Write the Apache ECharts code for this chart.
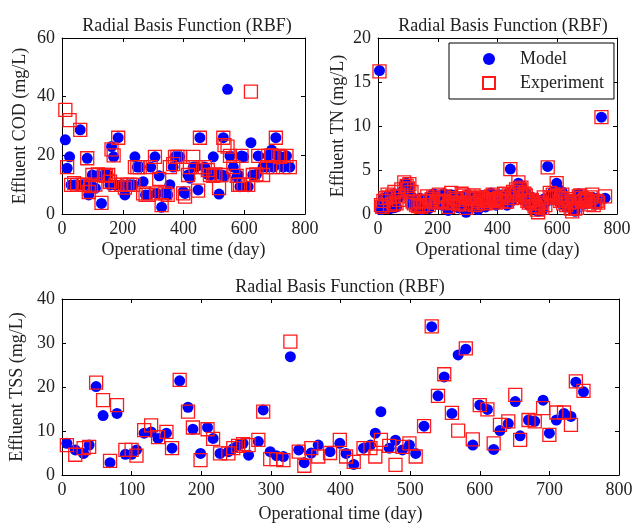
<!DOCTYPE html>
<html>
<head>
<meta charset="utf-8">
<script src="https://cdn.jsdelivr.net/npm/echarts@6/dist/echarts.min.js"></script>
<style>
  html, body { margin: 0; padding: 0; background: #fff; }
  #chart { width: 633px; height: 524px; }
</style>
</head>
<body>
<div id="chart"></div>
<script>
  // COD panel (top left)
  const codDay = [11, 17, 25, 30, 40, 50, 60, 68, 75, 83, 88, 95, 100, 110, 118, 130, 138, 145, 152, 158, 163, 170, 176, 185, 195, 207, 215, 225, 235, 240, 248, 256, 267, 275, 285, 292, 306, 312, 320, 328, 340, 348, 355, 366, 372, 380, 388, 399, 405, 415, 421, 432, 440, 448, 454, 470, 480, 487, 498, 505, 517, 525, 531, 535, 545, 553, 564, 575, 580, 586, 591, 598, 613, 622, 628, 640, 646, 662, 675, 679, 690, 695, 704, 712, 718, 728, 739, 750]
  const codModel = [25.3, 15.6, 19.5, 9.9, 9.9, 9.9, 28.7, 10, 9.9, 19, 6.5, 9.9, 13.3, 8.8, 13, 3.6, 13.3, 12.6, 13.3, 9.9, 23, 19.5, 9.9, 26, 10, 6.5, 9.9, 10, 9.9, 19.5, 16, 16, 11, 6.5, 6.5, 16, 19.5, 7, 13, 2.3, 7, 6.5, 10, 16, 19.5, 19.5, 19.5, 7.6, 7, 13.3, 12.2, 16, 16, 8.2, 26, 16, 13.5, 13.3, 19.5, 13.5, 6.8, 13.3, 26, 13, 42.5, 19.8, 16, 12.5, 13.3, 9.3, 19.8, 19.5, 9.3, 24.3, 13.3, 13.5, 19.8, 16, 16, 19.8, 21.8, 16, 26, 19.8, 19.5, 16, 19.8, 16]
  const codExp = [35.5, 16, 32, 9.9, 10.5, 9.9, 28.7, 10, 9.9, 19, 7.5, 9.5, 13.3, 10, 13.5, 3.8, 13.3, 13, 13.3, 11, 22, 20, 9.9, 26, 10, 9, 9.9, 10, 9.9, 16, 16, 16, 7, 6.5, 6.5, 16, 19.5, 7, 12, 3, 7, 6.5, 16, 17, 19.5, 19.5, 19.5, 7, 5.9, 13.3, 16, 19.5, 16, 8, 26, 16, 15, 13.3, 13, 13.5, 8.8, 13.3, 26, 23.5, 23, 19.8, 16, 13, 9.9, 10, 19.8, 10, 9.9, 41.7, 13.3, 13.5, 19.8, 13.3, 16, 19.8, 20, 16, 26, 19.8, 19.5, 16, 19.8, 16]

  // TN panel (top right)
  const tnDay = [5, 10, 14, 18, 25, 32, 36, 40, 48, 52, 55, 62, 66, 70, 78, 88, 96, 100, 105, 112, 116, 120, 128, 135, 140, 145, 150, 155, 165, 170, 175, 180, 185, 195, 200, 205, 210, 215, 220, 225, 235, 240, 245, 250, 255, 260, 265, 270, 275, 280, 285, 290, 295, 300, 305, 310, 315, 320, 325, 330, 335, 340, 345, 350, 355, 360, 365, 372, 378, 384, 390, 395, 400, 406, 412, 417, 422, 427, 432, 437, 443, 448, 452, 457, 462, 466, 470, 475, 480, 485, 490, 495, 500, 505, 510, 515, 520, 524, 528, 532, 536, 540, 545, 550, 555, 560, 568, 575, 580, 585, 592, 598, 605, 610, 613, 617, 620, 625, 630, 635, 640, 645, 650, 655, 660, 666, 672, 677, 682, 687, 692, 697, 702, 707, 712, 717, 722, 727, 732, 737, 748, 760]
  const tnModel = [16.3, 0.5, 1.2, 1.8, 1.2, 2.0, 1.6, 0.6, 1.5, 0.7, 2.3, 0.8, 2.2, 1.9, 2.5, 3.4, 3.5, 2.6, 3.1, 2.0, 1.0, 1.5, 0.8, 1.2, 1.8, 0.5, 1.3, 1.0, 1.8, 0.6, 1.2, 2.0, 2.3, 1.6, 1.1, 2.0, 1.8, 1.0, 2.3, 1.7, 0.4, 1.5, 2.2, 0.9, 1.3, 2.1, 1.9, 0.7, 1.1, 2.0, 1.8, 1.4, 0.2, 2.2, 1.5, 1.0, 2.0, 1.8, 1.3, 2.0, 0.5, 1.2, 1.6, 2.1, 1.0, 0.8, 1.8, 1.3, 2.4, 1.9, 1.4, 1.0, 1.9, 2.2, 1.2, 1.5, 2.0, 1.7, 1.0, 2.4, 5.1, 1.5, 2.2, 1.9, 2.5, 2.8, 3.5, 2.5, 3.2, 1.6, 2.0, 2.4, 1.8, 1.0, 1.2, 1.9, 1.5, 1.2, 0.5, 0.8, 0.3, 1.5, 1.0, 0.4, 1.7, 1.3, 5.4, 2.0, 1.6, 2.5, 2.2, 3.5, 2.8, 1.2, 2.2, 2.5, 1.5, 1.8, 0.8, 1.3, 1.6, 0.9, 0.5, 1.7, 0.3, 1.0, 2.3, 1.8, 1.5, 1.1, 1.9, 2.0, 1.2, 1.4, 1.6, 1.9, 1.3, 1.1, 1.8, 1.6, 11.0, 1.8]
  const tnExp = [16.2, 1.0, 0.8, 1.5, 1.8, 2.2, 1.9, 1.0, 2.0, 1.1, 2.5, 1.2, 2.0, 1.6, 2.8, 3.6, 3.2, 2.9, 3.4, 2.5, 1.4, 1.2, 1.0, 0.9, 1.5, 0.8, 1.0, 1.4, 2.0, 1.0, 1.5, 1.7, 1.9, 1.3, 1.4, 2.2, 1.5, 1.5, 2.0, 1.4, 0.8, 1.2, 2.4, 1.3, 1.8, 1.8, 1.6, 1.1, 1.3, 2.3, 2.1, 1.1, 0.7, 1.8, 1.9, 1.3, 1.7, 2.1, 1.0, 1.7, 1.2, 1.5, 1.9, 1.8, 1.3, 1.2, 1.5, 1.6, 2.0, 2.2, 1.7, 1.3, 1.6, 1.8, 1.5, 1.9, 2.3, 1.4, 1.4, 2.1, 5.1, 1.8, 2.5, 2.2, 2.8, 2.5, 3.6, 2.8, 3.0, 1.9, 2.3, 2.1, 1.5, 1.3, 1.5, 1.6, 1.2, 0.9, 0.8, 0.5, 0.2, 1.2, 1.3, 0.7, 1.9, 1.0, 5.3, 2.4, 1.9, 2.2, 1.9, 3.5, 2.0, 1.5, 1.8, 2.2, 1.2, 1.5, 1.0, 1.7, 1.3, 0.6, 0.3, 1.4, 0.6, 0.7, 2.0, 2.1, 1.8, 1.4, 1.6, 1.7, 1.5, 1.1, 1.9, 2.2, 1.0, 1.4, 1.5, 1.3, 11.0, 2.0]

  // TSS panel (bottom)
  const tssDay = [7, 19, 31, 39, 49, 59, 69, 79, 91, 100, 107, 118, 128, 138, 150, 158, 169, 181, 188, 199, 209, 217, 227, 239, 246, 253, 260, 268, 282, 289, 299, 308, 318, 328, 340, 348, 358, 368, 385, 399, 408, 419, 433, 443, 450, 458, 470, 479, 489, 499, 508, 520, 531, 540, 549, 560, 569, 580, 590, 600, 611, 620, 629, 641, 651, 658, 670, 679, 691, 700, 710, 721, 731, 738, 749]
  const tssModel = [7.2, 5.7, 4.9, 6.8, 20.1, 13.5, 2.8, 14.0, 4.7, 4.7, 5.7, 9.5, 9.8, 8.3, 9.5, 6.1, 21.4, 15.4, 10.4, 4.9, 10.8, 8.3, 4.9, 5.3, 6.0, 6.8, 7.2, 4.5, 7.6, 14.8, 5.3, 4.4, 4.2, 26.9, 5.7, 2.8, 5.0, 6.8, 5.3, 7.2, 4.9, 2.4, 6.1, 6.8, 9.5, 14.4, 6.1, 7.9, 5.7, 6.8, 4.9, 11.1, 33.7, 18.0, 22.3, 14.0, 27.3, 28.6, 6.8, 15.9, 14.9, 5.8, 10.1, 11.7, 16.7, 8.9, 12.5, 12.2, 17.0, 9.5, 12.5, 14.0, 13.3, 21.1, 18.9]
  const tssExp = [6.8, 4.6, 6.1, 6.4, 21.0, 17.0, 3.2, 15.9, 5.7, 5.7, 4.4, 10.2, 11.3, 8.6, 9.8, 6.1, 21.6, 14.4, 10.8, 3.4, 10.4, 8.2, 4.9, 4.9, 6.1, 6.6, 7.0, 6.8, 8.0, 14.4, 3.6, 3.6, 3.4, 30.3, 5.3, 2.1, 6.1, 4.2, 5.0, 8.0, 4.2, 3.0, 6.1, 6.1, 4.2, 8.0, 6.6, 2.3, 6.4, 7.2, 4.2, 11.1, 33.8, 18.0, 22.9, 14.1, 10.1, 28.8, 8.1, 15.9, 14.9, 7.2, 11.4, 12.2, 18.2, 8.0, 12.5, 12.2, 15.2, 9.1, 14.2, 14.2, 11.4, 21.3, 19.1]

  const titleText = 'Radial Basis Function (RBF)'
  const xName = 'Operational time (day)'

  const font = 'Liberation Serif'
  const ink = '#222'
  const blue = '#0000ff'
  const red = '#ff1a1a'

  const zip = (xs, ys) => xs.map((x, i) => [x, ys[i]])

  const chart = echarts.init(document.getElementById('chart'), null, { renderer: 'canvas' })

  const grids = [
    { left: 62, top: 38, width: 243, height: 176 },
    { left: 378, top: 38, width: 239, height: 176 },
    { left: 62, top: 299, width: 557, height: 176 }
  ]

  function mainX(gridIndex, interval, nameGap) {
    return {
      gridIndex: gridIndex,
      type: 'value',
      min: 0,
      max: 800,
      interval: interval,
      name: xName,
      nameLocation: 'middle',
      nameGap: nameGap,
      nameTextStyle: { fontFamily: font, fontSize: 18, color: ink },
      axisLine: { show: true, onZero: false, lineStyle: { color: '#000', width: 1 } },
      axisTick: { show: true, inside: true, length: 4, lineStyle: { color: '#000' } },
      axisLabel: { fontFamily: font, fontSize: 18, color: ink, margin: 6 },
      splitLine: { show: false }
    }
  }

  function topX(gridIndex, interval) {
    return {
      gridIndex: gridIndex,
      type: 'value',
      position: 'top',
      min: 0,
      max: 800,
      interval: interval,
      axisLine: { show: true, onZero: false, lineStyle: { color: '#000', width: 1 } },
      axisTick: { show: true, inside: true, length: 4, lineStyle: { color: '#000' } },
      axisLabel: { show: false },
      splitLine: { show: false }
    }
  }

  function mainY(gridIndex, max, interval, name, nameGap) {
    return {
      gridIndex: gridIndex,
      type: 'value',
      min: 0,
      max: max,
      interval: interval,
      name: name,
      nameLocation: 'middle',
      nameGap: nameGap,
      nameTextStyle: { fontFamily: font, fontSize: 18, color: ink },
      axisLine: { show: true, onZero: false, lineStyle: { color: '#000', width: 1 } },
      axisTick: { show: true, inside: true, length: 4, lineStyle: { color: '#000' } },
      axisLabel: { fontFamily: font, fontSize: 18, color: ink, margin: 7 },
      splitLine: { show: false }
    }
  }

  function rightY(gridIndex, max, interval) {
    return {
      gridIndex: gridIndex,
      type: 'value',
      position: 'right',
      min: 0,
      max: max,
      interval: interval,
      axisLine: { show: true, onZero: false, lineStyle: { color: '#000', width: 1 } },
      axisTick: { show: true, inside: true, length: 4, lineStyle: { color: '#000' } },
      axisLabel: { show: false },
      splitLine: { show: false }
    }
  }

  function modelSeries(xi, yi, data) {
    return {
      name: 'Model',
      type: 'scatter',
      xAxisIndex: xi,
      yAxisIndex: yi,
      symbol: 'circle',
      symbolSize: 11,
      itemStyle: { color: blue, opacity: 1 },
      data: data
    }
  }

  function expSeries(xi, yi, data) {
    return {
      name: 'Experiment',
      type: 'scatter',
      xAxisIndex: xi,
      yAxisIndex: yi,
      symbol: 'rect',
      symbolSize: 13,
      itemStyle: { color: 'rgba(0,0,0,0)', borderColor: red, borderWidth: 1.3, opacity: 1 },
      data: data
    }
  }

  const titleStyle = { fontFamily: font, fontSize: 18, fontWeight: 'normal', color: ink }

  chart.setOption({
    animation: false,
    backgroundColor: '#fff',
    title: [
      { text: titleText, left: 182, top: 12, textAlign: 'center', textStyle: titleStyle },
      { text: titleText, left: 498, top: 12, textAlign: 'center', textStyle: titleStyle },
      { text: titleText, left: 335, top: 273, textAlign: 'center', textStyle: titleStyle }
    ],
    legend: {
      data: ['Model', 'Experiment'],
      orient: 'vertical',
      left: 449,
      top: 43,
      width: 165,
      padding: [7, 10, 7, 33],
      itemGap: 6,
      itemWidth: 12,
      itemHeight: 12,
      backgroundColor: '#fff',
      borderColor: '#000',
      borderWidth: 1,
      textStyle: { fontFamily: font, fontSize: 18, color: ink, padding: [0, 0, 0, 20], width: 100 }
    },
    grid: grids.map(g => Object.assign({ show: false, containLabel: false, outerBoundsMode: 'none' }, g)),
    xAxis: [
      mainX(0, 200, 27), mainX(1, 200, 27), mainX(2, 100, 30),
      topX(0, 200), topX(1, 200), topX(2, 100)
    ],
    yAxis: [
      mainY(0, 60, 20, 'Effluent COD (mg/L)', 33),
      mainY(1, 20, 5, 'Effluent TN (mg/L)', 31),
      mainY(2, 40, 10, 'Effluent TSS (mg/L)', 34),
      rightY(0, 60, 20), rightY(1, 20, 5), rightY(2, 40, 10)
    ],
    series: [
      modelSeries(0, 0, zip(codDay, codModel)),
      expSeries(0, 0, zip(codDay, codExp)),
      modelSeries(1, 1, zip(tnDay, tnModel)),
      expSeries(1, 1, zip(tnDay, tnExp)),
      modelSeries(2, 2, zip(tssDay, tssModel)),
      expSeries(2, 2, zip(tssDay, tssExp))
    ]
  })
</script>
</body>
</html>
